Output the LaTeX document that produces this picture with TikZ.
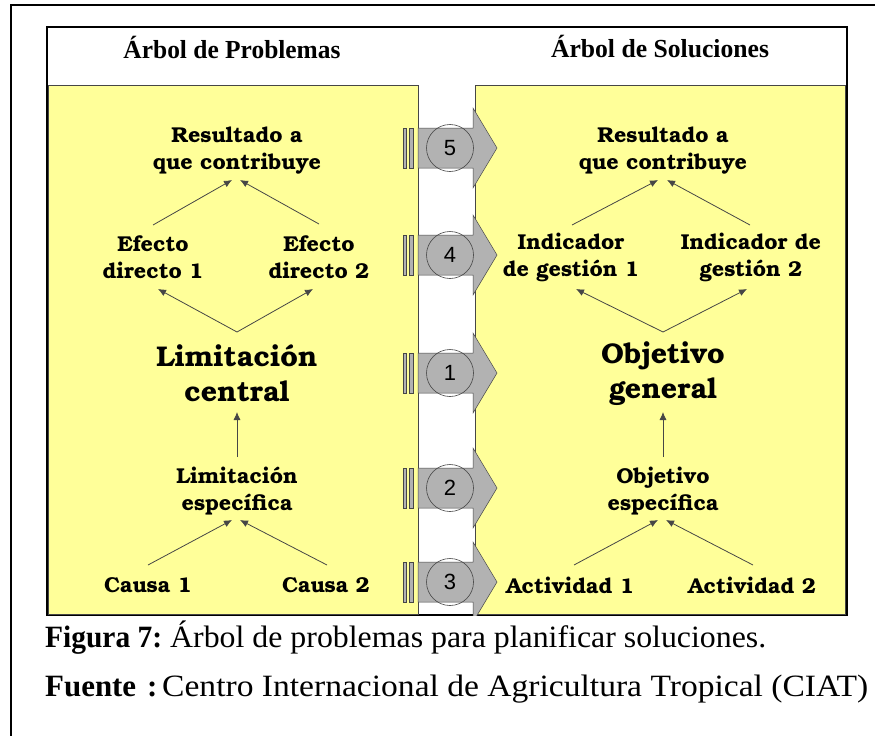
\documentclass[tikz,border=0pt]{standalone}
\usepackage{fontspec}
\setmainfont{Liberation Serif}
\newfontfamily\bookf{TeX Gyre Bonum}
\newfontfamily\numf{Liberation Sans}
\usetikzlibrary{arrows.meta,calc}
\definecolor{panelyellow}{RGB}{255,255,153}
\definecolor{bandgray}{RGB}{178,178,178}
\definecolor{linegray}{RGB}{70,70,70}
\tikzset{
  lbl/.style={font=\bookf\bfseries\fontsize{21.5}{27}\selectfont, align=center, inner sep=0pt},
  big/.style={font=\bookf\bfseries\fontsize{28.5}{35}\selectfont, align=center, inner sep=0pt},
  arr/.style={draw=linegray, line width=0.8pt, -{Latex[length=8pt,width=7pt]}},
  panel/.style={fill=panelyellow, draw=linegray, line width=0.8pt},
  band/.style={fill=bandgray, draw=linegray, line width=0.5pt},
  bar/.style={fill=bandgray, draw=linegray, line width=0.6pt},
  numc/.style={circle, minimum size=47pt, inner sep=0pt, draw=linegray, line width=0.6pt,
    font=\numf\fontsize{22}{22}\selectfont},
  head/.style={inner sep=0pt},
  captxt/.style={anchor=base west, inner sep=0pt},
}
\begin{document}
\begin{tikzpicture}[x=1pt,y=-1pt]
\useasboundingbox (0,0) rectangle (875,736);
\fill[white] (0,0) rectangle (875,736);
% outer frame (top and left)
\draw[line width=1.6pt] (875,5) -- (11,5) -- (11,736);
% inner box
\draw[fill=white, line width=1.6pt] (47,27) rectangle (847,615);
% panels
\draw[panel] (48,85) rectangle (418,614);
\draw[panel] (475,85) rectangle (845,614);
% headers
\node[head] (h1) at (232,47) {\resizebox{217pt}{\height}{\fontsize{26}{26}\selectfont\bfseries Árbol de Problemas}};
\node[head] (h2) at (660,47) {\resizebox{218pt}{\height}{\fontsize{26}{26}\selectfont\bfseries Árbol de Soluciones}};
% band arrows
\begin{scope}
\clip (47,27) rectangle (847,615);
\foreach \yy/\nn in {148/5,255/4,373/1,488/2,582/3}{
  \draw[bar] (403,\yy-20) rectangle (406,\yy+20);
  \draw[bar] (409,\yy-20) rectangle (413,\yy+20);
  \draw[band] (418,\yy-20) -- (473,\yy-20) -- (473,\yy-40) -- (497,\yy) -- (473,\yy+40) -- (473,\yy+20) -- (418,\yy+20) -- cycle;
  \node[numc] (n\nn) at (450,\yy) {\nn};
}
\end{scope}
% left tree
\node[lbl] (r1) at (237,150.5) {Resultado a\\que contribuye};
\node[lbl] (e1) at (153,257) {Efecto\\directo 1};
\node[lbl] (e2) at (319,257) {Efecto\\directo 2};
\node[big] (lc) at (237,373.5) {Limitación\\central};
\node[lbl] (le) at (237,491.5) {Limitación\\específica};
\node[lbl] (c1) at (148,585) {Causa 1};
\node[lbl] (c2) at (326,585) {Causa 2};
% right tree
\node[lbl] (r2) at (663,150.5) {Resultado a\\que contribuye};
\node[lbl] (i1) at (571,257) {Indicador\\de gestión 1};
\node[lbl] (i2) at (751,257) {Indicador de\\gestión 2};
\node[big] (og) at (663,373.5) {Objetivo\\general};
\node[lbl] (oe) at (663,491.5) {Objetivo\\específica};
\node[lbl] (a1) at (570,585) {Actividad 1};
\node[lbl] (a2) at (752,585) {Actividad 2};
% connectors left
\draw[arr] ([shift={(0,-32)}]e1.center) -- ([shift={(-5,29.5)}]r1.center);
\draw[arr] ([shift={(0,-33)}]e2.center) -- ([shift={(3,29.5)}]r1.center);
\coordinate (apx1) at ([shift={(0,-41.5)}]lc.center);
\draw[arr] (apx1) -- ([shift={(5,32)}]e1.center);
\draw[arr] (apx1) -- ([shift={(-6,32)}]e2.center);
\draw[arr] ([shift={(0,-34.5)}]le.center) -- ([shift={(0,38.5)}]lc.center);
\draw[arr] ([shift={(0,-20)}]c1.center) -- ([shift={(-5,28.5)}]le.center);
\draw[arr] ([shift={(1,-20)}]c2.center) -- ([shift={(3,28.5)}]le.center);
% connectors right
\draw[arr] ([shift={(1,-32)}]i1.center) -- ([shift={(-5,29.5)}]r2.center);
\draw[arr] ([shift={(-1,-32)}]i2.center) -- ([shift={(4,29.5)}]r2.center);
\coordinate (apx2) at ([shift={(0,-41.5)}]og.center);
\draw[arr] (apx2) -- ([shift={(5,32)}]i1.center);
\draw[arr] (apx2) -- ([shift={(-4,32)}]i2.center);
\draw[arr] ([shift={(0,-34.5)}]oe.center) -- ([shift={(0,38.5)}]og.center);
\draw[arr] ([shift={(4,-20)}]a1.center) -- ([shift={(-5,28.5)}]oe.center);
\draw[arr] ([shift={(1,-20)}]a2.center) -- ([shift={(3,28.5)}]oe.center);
% caption
\node[captxt] (cap1a) at (45,647) {\resizebox{117pt}{\height}{\fontsize{31}{31}\selectfont\textbf{Figura 7:}}};
\node[captxt] (cap1b) at (170,647) {\resizebox{596pt}{\height}{\fontsize{31}{31}\selectfont Árbol de problemas para planificar soluciones.}};
\node[captxt] (cap2a) at (45,696) {\resizebox{91pt}{\height}{\fontsize{31}{31}\selectfont\textbf{Fuente}}};
\node[captxt] (cap2b) at (147,696) {\fontsize{31}{31}\selectfont\textbf{:}};
\node[captxt] (cap2c) at (162,696) {\resizebox{706pt}{\height}{\fontsize{31}{31}\selectfont Centro Internacional de Agricultura Tropical (CIAT)}};
\end{tikzpicture}
\end{document}
